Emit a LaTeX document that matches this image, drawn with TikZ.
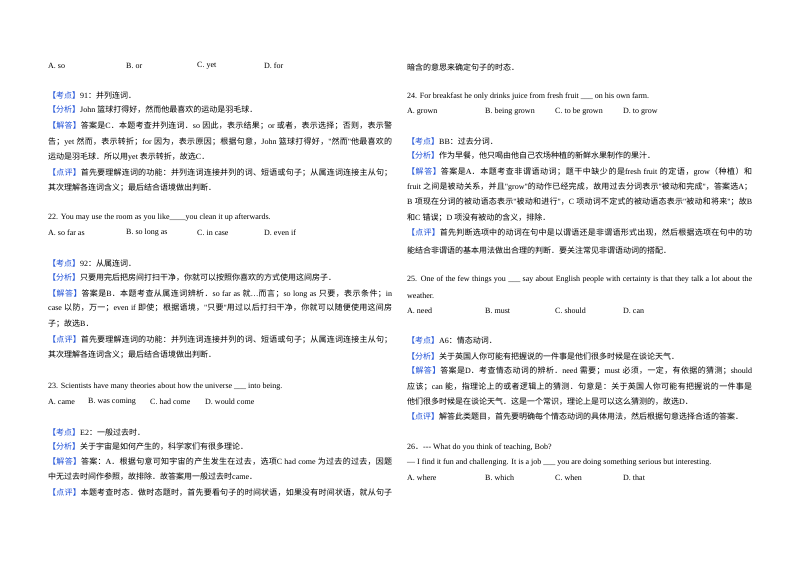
\documentclass[tikz,border=0pt]{standalone}
\usepackage{fontspec}
\setmainfont{Liberation Serif}
\newfontfamily\latf{Liberation Serif}
\newfontfamily\cjkf{Noto Sans CJK SC}[Scale=1.0]
\XeTeXinterchartokenstate=1
\newXeTeXintercharclass\cjkc
\count255="4E00 \loop\XeTeXcharclass\count255=\cjkc\advance\count255 by1 \ifnum\count255<"A000 \repeat
\count255="3000 \loop\XeTeXcharclass\count255=\cjkc\advance\count255 by1 \ifnum\count255<"3040 \repeat
\count255="FF00 \loop\XeTeXcharclass\count255=\cjkc\advance\count255 by1 \ifnum\count255<"FFF0 \repeat
\XeTeXinterchartoks 0 \cjkc = {\cjkf}
\XeTeXinterchartoks 4095 \cjkc = {\cjkf}
\XeTeXinterchartoks \cjkc 0 = {\latf}
\XeTeXinterchartoks \cjkc 4095 = {\latf}
\XeTeXinterchartoks \cjkc \cjkc = {\hskip0pt plus 1pt}
\definecolor{lblue}{RGB}{30,80,215}
\newcommand\kd[1]{{\color{lblue}【#1】}}
\newcommand\fullL[1]{\makebox[344pt][s]{#1}}
\newcommand\fullR[1]{\makebox[345pt][s]{#1}}
\tikzset{ln/.style={anchor=west,inner sep=0pt,font=\fontsize{8}{9}\selectfont}}
\begin{document}
\begin{tikzpicture}[x=1pt,y=-1pt]
\useasboundingbox (0,0) rectangle (800,565);
% left column
\node[ln] (a1) at (48,66) {A. so};
\node[ln] (b1) at (126,66) {B. or};
\node[ln] (c1) at (197,66) {C. yet};
\node[ln] (d1) at (264,66) {D. for};
\node[ln] (l1) at (48,95) {\kd{考点}91：并列连词．};
\node[ln] (l2) at (48,110) {\kd{分析}John 篮球打得好，然而他最喜欢的运动是羽毛球．};
\node[ln] (l3) at (48,126) {\fullL{\kd{解答}答案是C．本题考查并列连词．so 因此，表示结果；or 或者，表示选择；否则，表示警}};
\node[ln] (l4) at (48,142) {\fullL{告；yet 然而，表示转折；for 因为，表示原因；根据句意，John 篮球打得好，"然而"他最喜欢的}};
\node[ln] (l5) at (48,157) {运动是羽毛球．所以用yet 表示转折，故选C．};
\node[ln] (l6) at (48,173) {\fullL{\kd{点评}首先要理解连词的功能：并列连词连接并列的词、短语或句子；从属连词连接主从句；}};
\node[ln] (l7) at (48,188) {其次理解各连词含义；最后结合语境做出判断．};
\node[ln] (q22) at (48,218) {22. You may use the room as you like\_\_\_\_you clean it up afterwards.};
\node[ln] (a2) at (48,233) {A. so far as};
\node[ln] (b2) at (126,233) {B. so long as};
\node[ln] (c2) at (197,233) {C. in case};
\node[ln] (d2) at (264,233) {D. even if};
\node[ln] (m1) at (48,263) {\kd{考点}92：从属连词．};
\node[ln] (m2) at (48,278) {\kd{分析}只要用完后把房间打扫干净，你就可以按照你喜欢的方式使用这间房子．};
\node[ln] (m3) at (48,294) {\fullL{\kd{解答}答案是B．本题考查从属连词辨析．so far as 就…而言；so long as 只要，表示条件；in}};
\node[ln] (m4) at (48,308) {\fullL{case 以防，万一；even if 即使；根据语境，"只要"用过以后打扫干净，你就可以随便使用这间房}};
\node[ln] (m5) at (48,324) {子；故选B．};
\node[ln] (m6) at (48,340) {\fullL{\kd{点评}首先要理解连词的功能：并列连词连接并列的词、短语或句子；从属连词连接主从句；}};
\node[ln] (m7) at (48,355) {其次理解各连词含义；最后结合语境做出判断．};
\node[ln] (q23) at (48,387) {23. Scientists have many theories about how the universe \_\_\_ into being.};
\node[ln] (a3) at (48,402) {A. came};
\node[ln] (b3) at (88,402) {B. was coming};
\node[ln] (c3) at (150,402) {C. had come};
\node[ln] (d3) at (205,402) {D. would come};
\node[ln] (n1) at (48,432) {\kd{考点}E2：一般过去时．};
\node[ln] (n2) at (48,447) {\kd{分析}关于宇宙是如何产生的，科学家们有很多理论．};
\node[ln] (n3) at (48,462) {\fullL{\kd{解答}答案：A．根据句意可知宇宙的产生发生在过去，选项C had come 为过去的过去，因题}};
\node[ln] (n4) at (48,477) {中无过去时间作参照，故排除．故答案用一般过去时came．};
\node[ln] (n5) at (48,493) {\fullL{\kd{点评}本题考查时态．做时态题时，首先要看句子的时间状语，如果没有时间状语，就从句子}};
% right column
\node[ln] (r0) at (407,67) {暗含的意思来确定句子的时态．};
\node[ln] (q24) at (407,97) {24. For breakfast he only drinks juice from fresh fruit \_\_\_ on his own farm.};
\node[ln] (a4) at (407,112) {A. grown};
\node[ln] (b4) at (485,112) {B. being grown};
\node[ln] (c4) at (555,112) {C. to be grown};
\node[ln] (d4) at (623,112) {D. to grow};
\node[ln] (r1) at (407,141) {\kd{考点}BB：过去分词．};
\node[ln] (r2) at (407,156) {\kd{分析}作为早餐，他只喝由他自己农场种植的新鲜水果制作的果汁．};
\node[ln] (r3) at (407,172) {\fullR{\kd{解答}答案是A．本题考查非谓语动词；题干中缺少的是fresh fruit 的定语，grow（种植）和}};
\node[ln] (r4) at (407,187) {\fullR{fruit 之间是被动关系，并且"grow"的动作已经完成，故用过去分词表示"被动和完成"，答案选A；}};
\node[ln] (r5) at (407,202) {\fullR{B 项现在分词的被动语态表示"被动和进行"，C 项动词不定式的被动语态表示"被动和将来"；故B}};
\node[ln] (r6) at (407,218) {和C 错误；D 项没有被动的含义，排除．};
\node[ln] (r7) at (407,233) {\fullR{\kd{点评}首先判断选项中的动词在句中是以谓语还是非谓语形式出现，然后根据选项在句中的功}};
\node[ln] (r8) at (407,250) {能结合非谓语的基本用法做出合理的判断．要关注常见非谓语动词的搭配．};
\node[ln] (q25) at (407,280) {\fullR{25. One of the few things you \_\_\_ say about English people with certainty is that they talk a lot about the}};
\node[ln] (q25b) at (407,296) {weather.};
\node[ln] (a5) at (407,311) {A. need};
\node[ln] (b5) at (485,311) {B. must};
\node[ln] (c5) at (555,311) {C. should};
\node[ln] (d5) at (623,311) {D. can};
\node[ln] (s1) at (407,340) {\kd{考点}A6：情态动词．};
\node[ln] (s2) at (407,356) {\kd{分析}关于英国人你可能有把握说的一件事是他们很多时候是在谈论天气．};
\node[ln] (s3) at (407,371) {\fullR{\kd{解答}答案是D．考查情态动词的辨析．need 需要；must 必须，一定，有依据的猜测；should}};
\node[ln] (s4) at (407,387) {\fullR{应该；can 能，指理论上的或者逻辑上的猜测．句意是：关于英国人你可能有把握说的一件事是}};
\node[ln] (s5) at (407,402) {他们很多时候是在谈论天气．这是一个常识，理论上是可以这么猜测的，故选D．};
\node[ln] (s6) at (407,417) {\kd{点评}解答此类题目，首先要明确每个情态动词的具体用法，然后根据句意选择合适的答案．};
\node[ln] (q26) at (407,448) {26．--- What do you think of teaching, Bob?};
\node[ln] (q26b) at (407,463) {--- I find it fun and challenging. It is a job \_\_\_ you are doing something serious but interesting.};
\node[ln] (a6) at (407,478) {A. where};
\node[ln] (b6) at (485,478) {B. which};
\node[ln] (c6) at (555,478) {C. when};
\node[ln] (d6) at (623,478) {D. that};
\end{tikzpicture}
\end{document}
